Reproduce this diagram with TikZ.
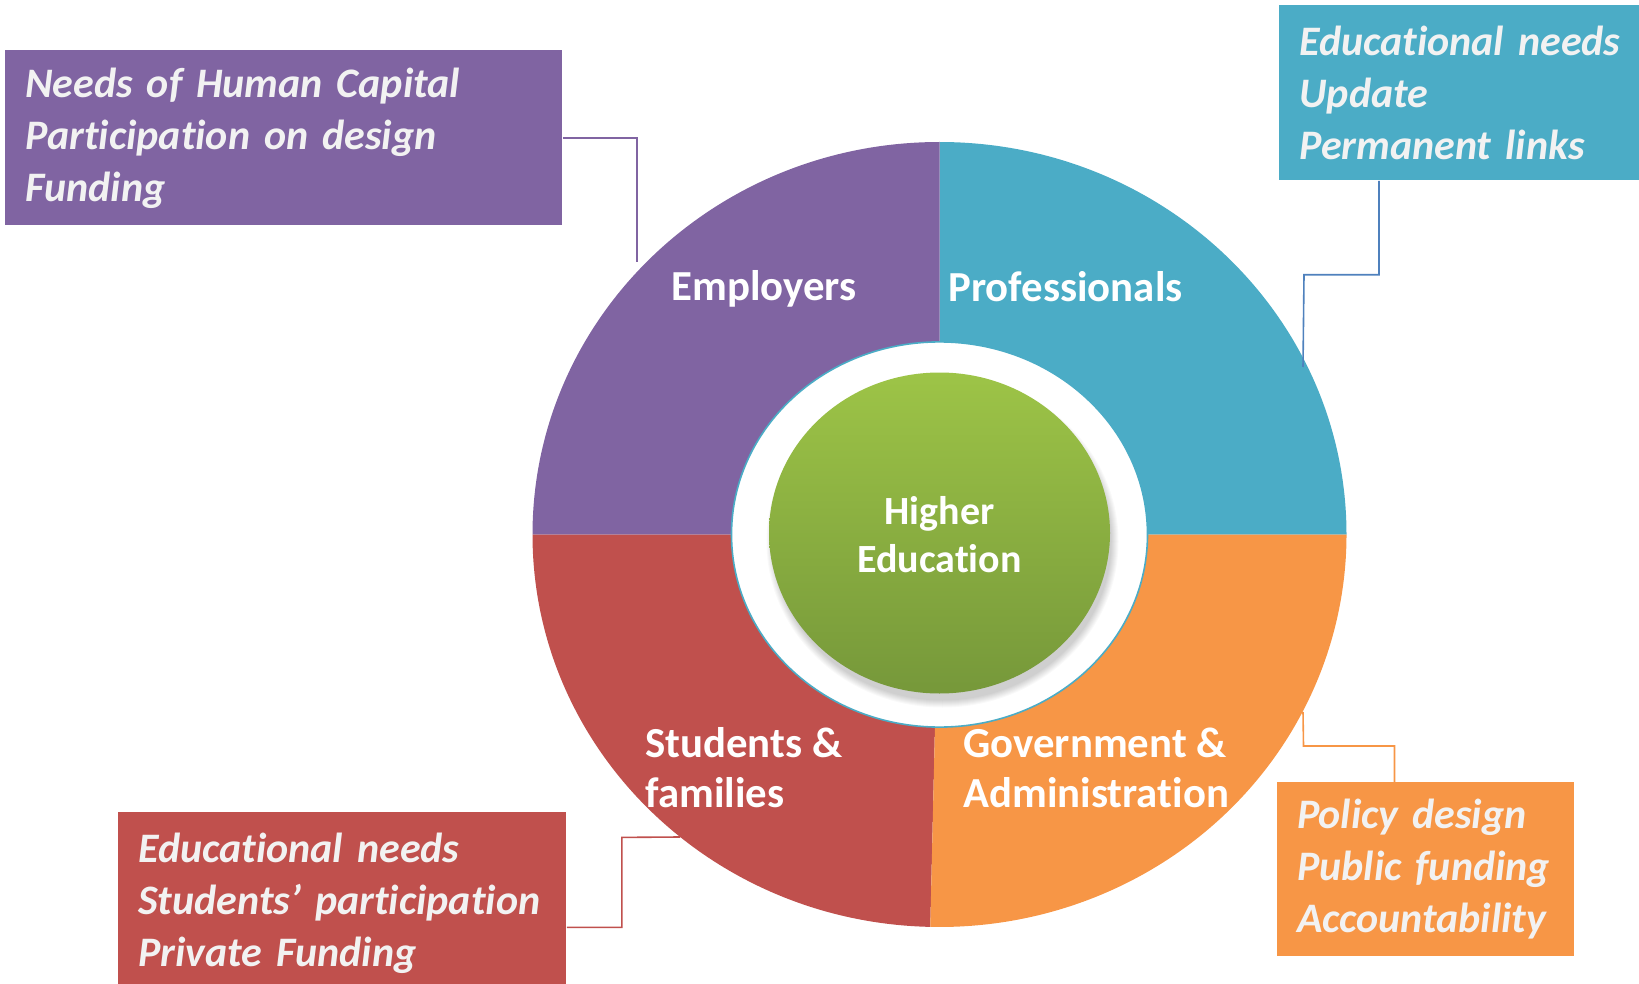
\documentclass[tikz,border=0pt]{standalone}
\usepackage{fontspec}
\setmainfont{Carlito}[Ligatures=NoCommon]
\usetikzlibrary{positioning,calc}
\definecolor{empcol}{HTML}{8064A2}
\definecolor{profcol}{HTML}{4BACC6}
\definecolor{studcol}{HTML}{C0504D}
\definecolor{govcol}{HTML}{F79646}
\definecolor{linkblue}{HTML}{4F81BD}
\definecolor{greentop}{HTML}{9DC447}
\definecolor{greenbot}{HTML}{76983A}
\definecolor{boxtext}{HTML}{F2F2F2}
\tikzset{
  needbox/.style={anchor=north west,inner ysep=0pt,inner xsep=10pt,
    align=left,text=boxtext,
    font=\fontsize{21}{26}\selectfont\bfseries\itshape},
  ringlabel/.style={anchor=base west,inner sep=0pt,align=left,text=white,
    font=\fontsize{21.4}{25}\selectfont\bfseries},
  link/.style={line width=0.8pt},
}

\begin{document}
\begin{tikzpicture}[x=0.5pt,y=0.5pt]
\useasboundingbox (0,0) rectangle (1639,-984);
% Scale: one unit per pixel

% Centre of the ring
\coordinate (C) at (939.5,-534.5);

% Four quarters of the ring
\foreach \from/\to/\col in {0/90/profcol,90/180/empcol,
    180/268.7/studcol,268.7/360/govcol}
  \fill[\col] (C) -- +(\from:407 and 392.5)
    arc[start angle=\from,end angle=\to,x radius=407,y radius=392.5]
    -- cycle;

% Hole and centre
\filldraw[fill=white,draw=profcol,line width=0.8pt]
  (C) ellipse[x radius=208,y radius=192.6];
\foreach \s in {1,...,8}
  \fill[black,opacity=0.025] ($(C)+(3,-7)$)
    ellipse[x radius=168+\s,y radius=158+\s];
\shade[top color=greentop,bottom color=greenbot]
  ($(C)+(0,1.5)$) ellipse[x radius=170.5,y radius=160.5];
\node[inner sep=0pt,align=center,text=white,
  font=\fontsize{20}{24}\selectfont\bfseries] (he) at (939.5,-534.5)
  {Higher\\Education};

% Labels of the quarters
\node[ringlabel] (emp) at (671,-300) {Employers};
\node[ringlabel] (prof) at (948,-302) {Professionals};
\node[ringlabel] (stud) at (645,-807) {Students \&\\families};
\node[ringlabel] (gov) at (963,-807) {Government \&\\Administration};

% Boxes
\node[needbox,fill=empcol,text width=258.5pt,minimum height=87.5pt]
  (needsbox) at (5,-50)
  {Needs of Human Capital\\Participation on design\\Funding};
\node[needbox,fill=profcol,text width=190pt,minimum height=87.5pt]
  (profbox) at (1279,-5)
  {Educational needs\\Update\\Permanent links};
\node[needbox,fill=studcol,text width=204pt,minimum height=91pt]
  (studbox) at (118,-812)
  {Educational needs\\Students’~participation\\Private Funding};
\node[needbox,fill=govcol,text width=128.5pt,minimum height=87pt]
  (govbox) at (1276.6,-782)
  {Policy design\\Public~funding\\Accountability};

% Connectors
\coordinate (empEdge) at (637,-262);
\coordinate (profEdge) at (1303,-367);
\coordinate (studEdge) at (680,-837);
\coordinate (govEdge) at (1303,-712);
\draw[link,empcol] (needsbox.east) -| (empEdge);
\draw[link,linkblue] ([xshift=50pt]profbox.south west)
  |- ++(-75,-94) -- (profEdge);
\draw[link,studcol] ([yshift=-12pt]studbox.east)
  -| ++(55,90) -- (studEdge);
\draw[link,govcol] ([xshift=-15.5pt]govbox.north)
  |- ++(-91,36) -- (govEdge);
\end{tikzpicture}
\end{document}
